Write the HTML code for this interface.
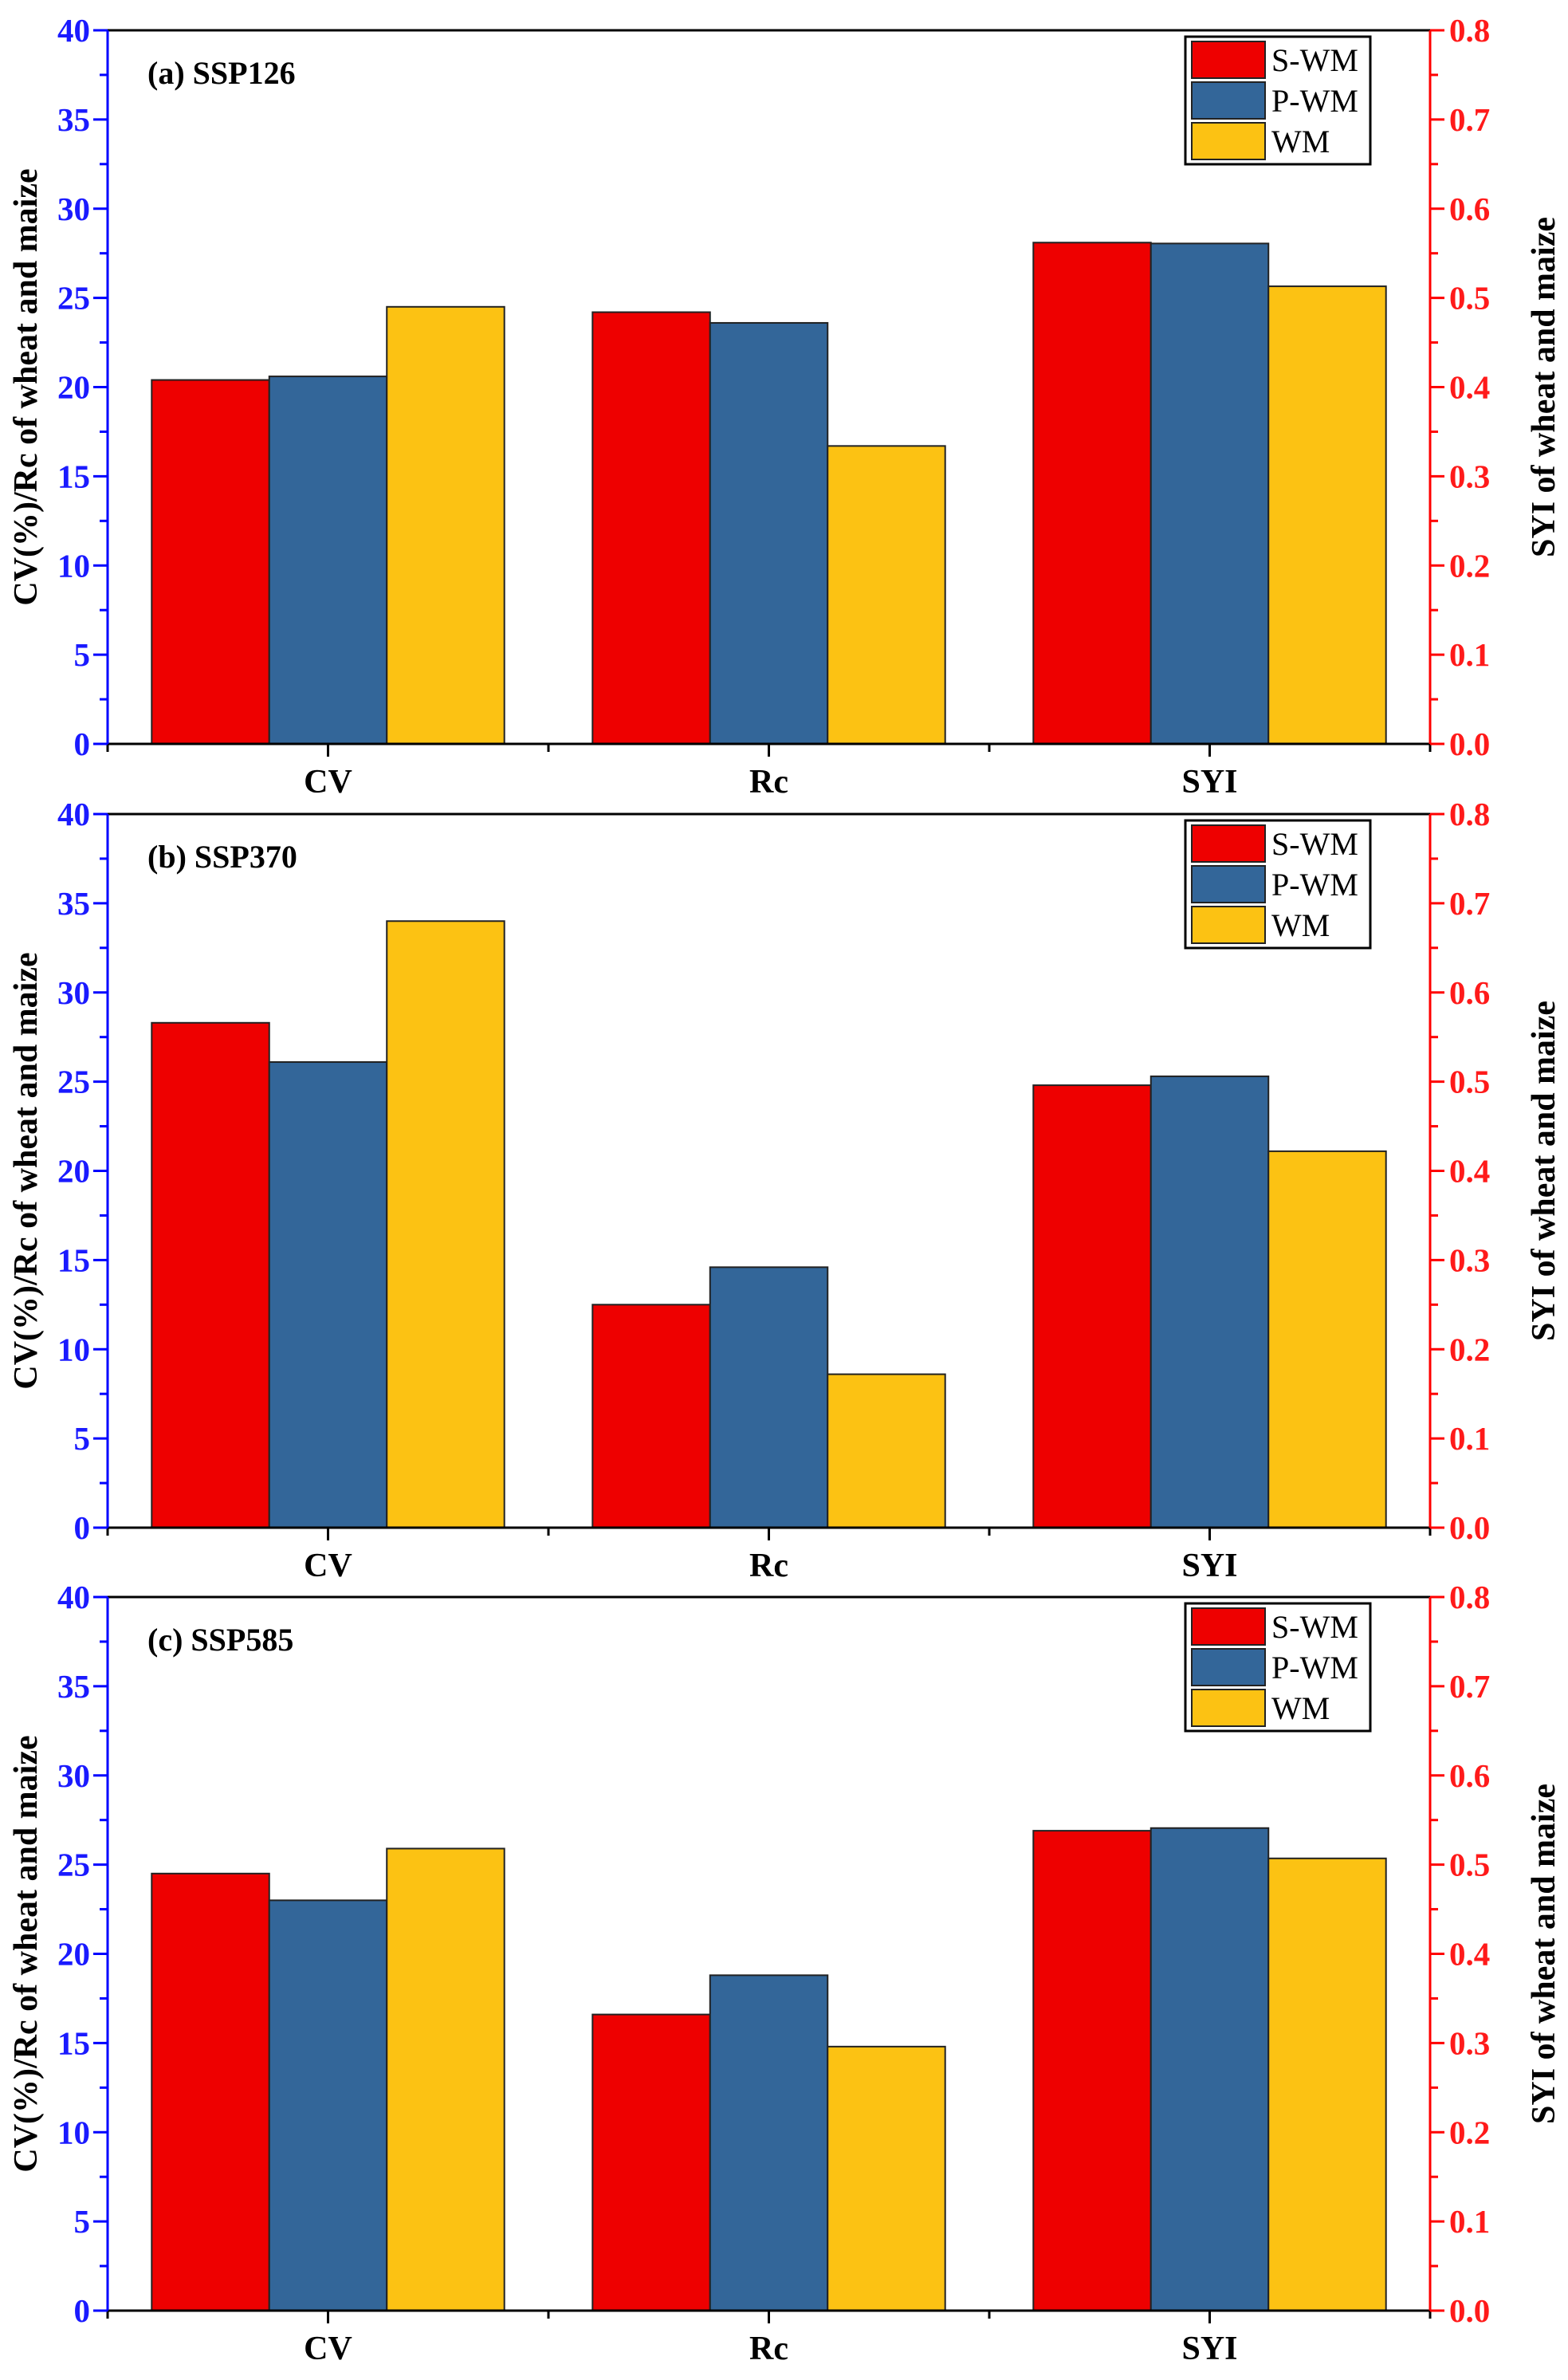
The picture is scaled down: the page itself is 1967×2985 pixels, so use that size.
<!DOCTYPE html>
<html><head><meta charset="utf-8"><style>
html,body{margin:0;padding:0;background:#fff;}
svg{display:block;font-family:"Liberation Serif",serif;font-weight:bold;}
</style></head><body>
<svg id="fig" width="1967" height="2985" viewBox="0 0 1967 2985" xmlns="http://www.w3.org/2000/svg"></svg>
<script>
const categories = ["CV","Rc","SYI"];
const seriesNames = ["S-WM","P-WM","WM"];
const panelTitles = ["(a) SSP126","(b) SSP370","(c) SSP585"];
// left-axis values for CV and Rc, right-axis values for SYI
const cvA = [20.4, 20.6, 24.5];
const rcA = [24.2, 23.6, 16.7];
const syiA = [0.562, 0.561, 0.513];
const cvB = [28.3, 26.1, 34.0];
const rcB = [12.5, 14.6, 8.6];
const syiB = [0.496, 0.506, 0.422];
const cvC = [24.5, 23.0, 25.9];
const rcC = [16.6, 18.8, 14.8];
const syiC = [0.538, 0.541, 0.507];
const leftTicks = [0,5,10,15,20,25,30,35,40];
const rightTicks = ["0.0","0.1","0.2","0.3","0.4","0.5","0.6","0.7","0.8"];
const colors = ["#ee0000","#336699","#fcc213"];

const NS="http://www.w3.org/2000/svg";
const svg=document.getElementById('fig');
function mk(tag,attrs,parent){const e=document.createElementNS(NS,tag);for(const k in attrs)e.setAttribute(k,attrs[k]);(parent||svg).appendChild(e);return e;}

const X0=135, X1=1794, tops=[38,1021,2003], H=895;
const panels=[[cvA,rcA,syiA],[cvB,rcB,syiB],[cvC,rcC,syiC]];
panels.forEach((pd,pi)=>{
  const top=tops[pi], bot=top+H;
  const g=mk('g',{});
  
  
  const yL=v=>bot-v/40*H;
  const yR=v=>bot-v/0.8*H;
  const cell=(X1-X0)/categories.length;
  const bw=cell*0.8/3;
  categories.forEach((c,ci)=>{
    const vals=pd[ci];
    vals.forEach((v,si)=>{
      const y= ci===2 ? yR(v) : yL(v);
      const x=X0+ci*cell+cell*0.1+si*bw;
      const r=mk('rect',{x:x,y:y,width:bw,height:bot-y,fill:colors[si],stroke:'#222','stroke-width':2},g);
      
      
    });
    const cx=X0+ci*cell+cell/2;
    mk('line',{x1:cx,y1:bot,x2:cx,y2:bot+16,stroke:'#000','stroke-width':3},g);
    const t=mk('text',{x:cx,y:bot+61,'text-anchor':'middle','font-size':42,fill:'#000'},g);
    t.textContent=c;
    
    
  });
  for(let k=0;k<=3;k++){const x=X0+k*cell;mk('line',{x1:x,y1:bot,x2:x,y2:bot+10,stroke:'#000','stroke-width':3},g);}
  mk('line',{x1:X0,y1:top,x2:X1,y2:top,stroke:'#000','stroke-width':3},g);
  mk('line',{x1:X0,y1:bot,x2:X1,y2:bot,stroke:'#000','stroke-width':3},g);
  mk('line',{x1:X0,y1:top,x2:X0,y2:bot,stroke:'#0000ff','stroke-width':3},g);
  mk('line',{x1:X1,y1:top,x2:X1,y2:bot,stroke:'#ff0000','stroke-width':3},g);
  for(let v=0;v<=40;v+=2.5){
    const y=yL(v), major=v%5===0;
    mk('line',{x1:X0,y1:y,x2:X0-(major?18:10),y2:y,stroke:'#0000ff','stroke-width':3},g);
  }
  leftTicks.forEach(v=>{
    const t=mk('text',{x:X0-22,y:yL(v)+14,'text-anchor':'end','font-size':41,fill:'#1a1aff'},g);
    t.textContent=v;
    
    
  });
  for(let i=0;i<=16;i++){
    const y=bot-i/16*H, major=i%2===0;
    mk('line',{x1:X1,y1:y,x2:X1+(major?18:10),y2:y,stroke:'#ff0000','stroke-width':3},g);
  }
  rightTicks.forEach((s,i)=>{
    const t=mk('text',{x:X1+24,y:yR(i*0.1)+14,'text-anchor':'start','font-size':41,fill:'#ff1a1a'},g);
    t.textContent=s;
    
    
  });
  const my=(top+bot)/2;
  const lt=mk('text',{x:0,y:0,transform:`translate(46,${my}) rotate(-90)`,'text-anchor':'middle','font-size':42,fill:'#000'},g);
  lt.textContent='CV(%)/Rc of wheat and maize';
  
  
  const rt=mk('text',{x:0,y:0,transform:`translate(1950,${my}) rotate(-90)`,'text-anchor':'middle','font-size':42,fill:'#000'},g);
  rt.textContent='SYI of wheat and maize';
  
  
  const pt=mk('text',{x:185,y:top+67,'font-size':40,fill:'#000'},g);
  pt.textContent=panelTitles[pi];
  
  
  const lg=mk('g',{},g);
  
  
  mk('rect',{x:1487,y:top+8,width:232,height:160,fill:'#fff',stroke:'#000','stroke-width':3},lg);
  seriesNames.forEach((n,si)=>{
    const ry=top+14+si*51;
    const p=mk('rect',{x:1495,y:ry,width:92,height:46,fill:colors[si],stroke:'#222','stroke-width':2},lg);
    
    
    const t=mk('text',{x:1595,y:ry+37,'font-size':40,'font-weight':'normal',fill:'#000'},lg);
    t.textContent=n;
    
    
  });
});
</script>
</body></html>
